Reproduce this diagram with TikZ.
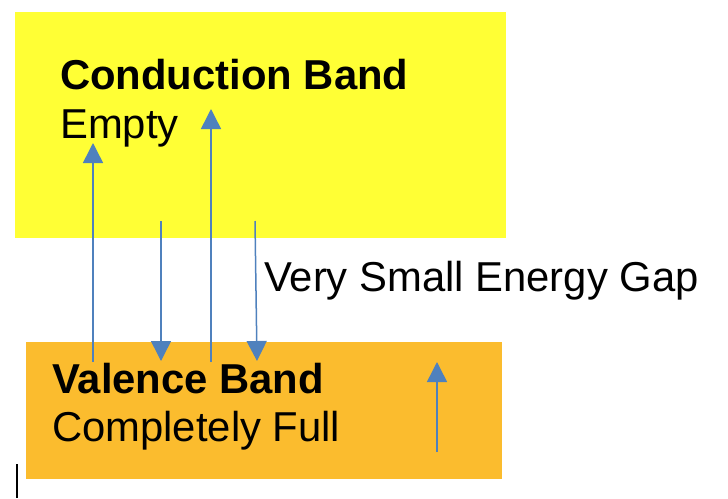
\documentclass[tikz,border=0pt]{standalone}
\usepackage{fontspec}
\setmainfont{Liberation Sans}
\usetikzlibrary{arrows.meta}
\definecolor{cbyellow}{RGB}{255,255,53}
\definecolor{vborange}{RGB}{251,188,46}
\definecolor{arrblue}{RGB}{79,129,189}
\begin{document}
\begin{tikzpicture}[x=1pt,y=-1pt,
  bandbox/.style={draw=none,inner sep=0pt,anchor=north west},
  lbl/.style={anchor=base west,inner sep=0pt,font=\fontsize{41.8}{50}\selectfont},
  blbl/.style={lbl,font=\fontsize{41.8}{50}\selectfont\bfseries},
  transition/.style={draw=arrblue,line width=1.5pt,-{Triangle[width=20pt,length=20pt]}}]
\useasboundingbox (0,0) rectangle (728,498);
% bands
\node[bandbox,fill=cbyellow,minimum width=491pt,minimum height=226pt] (cb) at (15,12) {};
\node[bandbox,fill=vborange,minimum width=476pt,minimum height=137pt] (vb) at (26,342) {};
% texts
\node[blbl] (cbt) at (60,89) {Conduction Band};
\node[lbl] (cbe) at (60,138) {Empty};
\node[lbl] (gap) at (264,291) {Very Small Energy Gap};
\node[blbl] (vbt) at (52,393) {Valence Band};
\node[lbl] (vbf) at (52,441) {Completely Full};
% arrow end points
\coordinate (a1s) at (93,362);  \coordinate (a1e) at (93,143);
\coordinate (a2s) at (161,221); \coordinate (a2e) at (161,361);
\coordinate (a3s) at (211,362); \coordinate (a3e) at (211,109);
\coordinate (a4s) at (255,221); \coordinate (a4e) at (257,361);
\coordinate (a5s) at (437,452); \coordinate (a5e) at (437,362);
\draw[transition] (a1s) -- (a1e);
\draw[transition] (a2s) -- (a2e);
\draw[transition] (a3s) -- (a3e);
\draw[transition] (a4s) -- (a4e);
\draw[transition] (a5s) -- (a5e);
% small cursor mark
\coordinate (m1) at (17,464); \coordinate (m2) at (17,498);
\draw[line width=1.4pt,black] (m1) -- (m2);
\end{tikzpicture}
\end{document}
